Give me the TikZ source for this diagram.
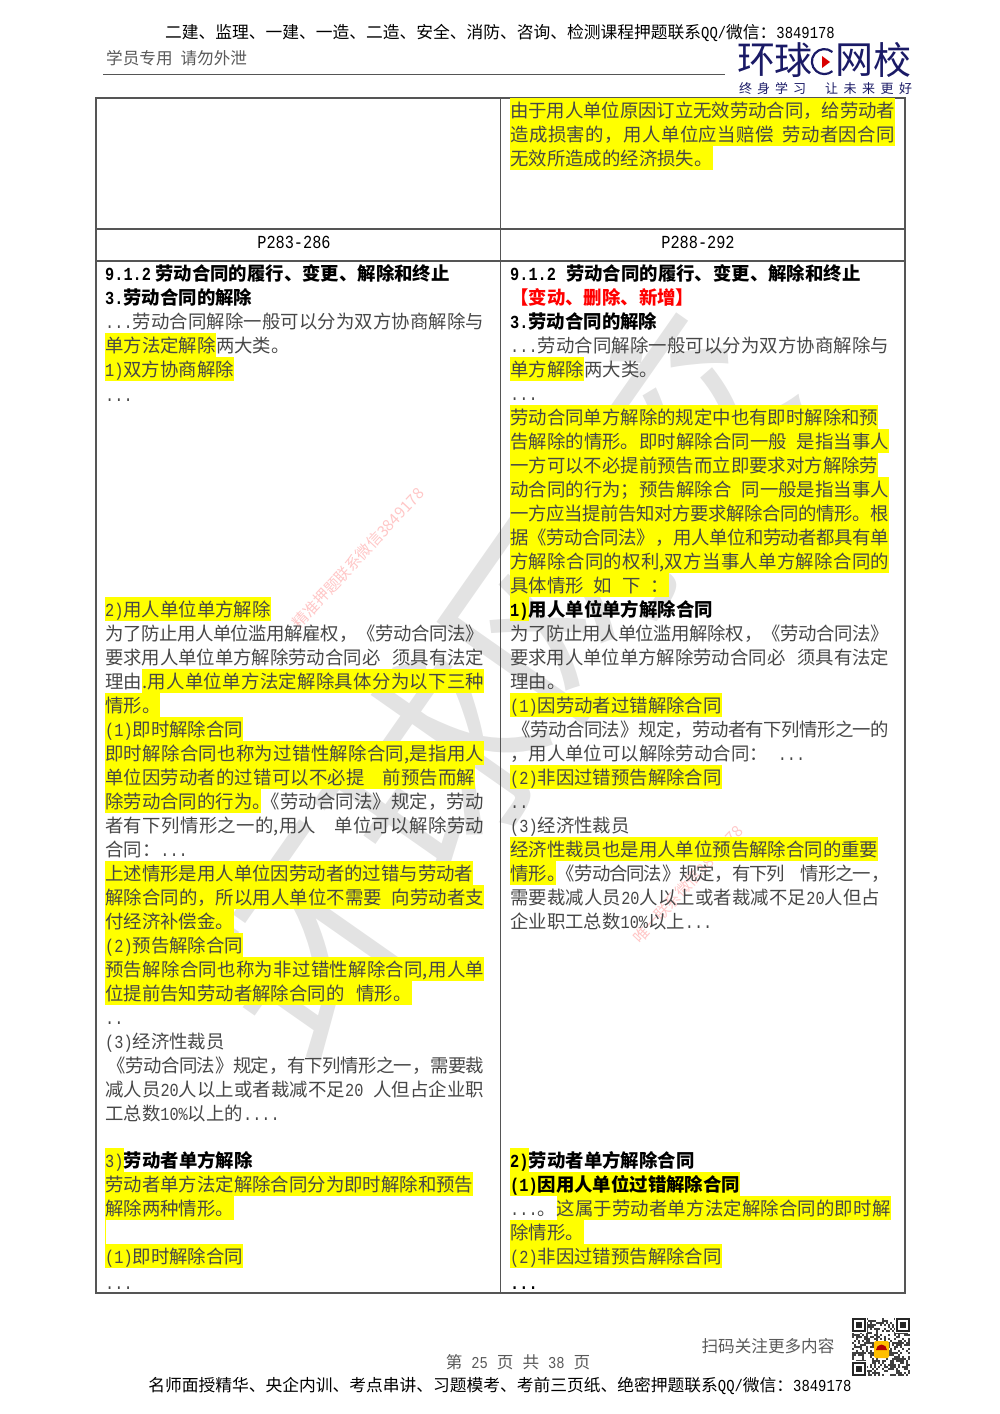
\documentclass[tikz,border=0pt]{standalone}
\usepackage{fontspec}
\setmainfont{Noto Sans CJK SC}
\newfontfamily\latinf[FakeStretch=.83]{Liberation Mono}
\XeTeXlinebreaklocale "zh"
\XeTeXlinebreakskip=0pt plus 3pt minus 1.2pt
\newcommand{\bodysize}{\fontsize{18.4}{24}\selectfont}
\newcommand{\nm}[1]{{\latinf #1}}
\newcommand{\dt}{\nm{.}}
\newcommand{\hp}{\makebox[9pt][l]{。}}
\newcommand{\fl}[2][379pt]{\parbox[t]{#1}{\parfillskip=0pt\relax #2}}
\definecolor{hlyellow}{HTML}{FFFF00}
\definecolor{logoblue}{HTML}{1A1A66}
\definecolor{rulegray}{HTML}{555555}
\tikzset{
  pl/.style={anchor=west,inner sep=0pt,minimum height=24pt,text height=16pt,text depth=2pt,text=black!72,font=\bodysize},
  hl/.style={pl,fill=hlyellow},
  bd/.style={pl,text=black,font=\bodysize\bfseries},
  hlbd/.style={bd,fill=hlyellow},
  wmark/.style={inner sep=0pt,rotate=47,text=red!22,font=\fontsize{15.5}{15.5}\selectfont},
  headtxt/.style={inner sep=0pt,text=black!85,font=\fontsize{16.75}{20}\selectfont},
  graytxt/.style={inner sep=0pt,text=black!65,font=\fontsize{16.6}{20}\selectfont},
  logotxt/.style={inner sep=0pt,text=logoblue,font=\fontsize{38}{38}\selectfont},
  tagtxt/.style={anchor=west,inner sep=0pt,text=logoblue,font=\fontsize{13}{13}\selectfont},
}
\begin{document}
\begin{tikzpicture}[x=1pt,y=-1pt]
\useasboundingbox (0,0) rectangle (1000,1414);

\node[inner sep=0pt,rotate=55,text=black!11,font=\fontsize{210}{210}\selectfont] (bigmark) at (495,685) {环球网校};
\node[wmark] (mark1) at (358,558) {精准押题联系微信3849178};
\node[wmark] (mark2) at (688,884) {唯一联系微信3849178};

\node[headtxt,text=black] (head) at (500,33) {二建、监理、一建、一造、二造、安全、消防、咨询、检测课程押题联系\nm{QQ/}微信：\nm{3849178}};
\node[graytxt,anchor=west] (stud) at (106,58) {学员专用\hspace{8pt}请勿外泄};
\draw[rulegray,line width=1.2pt] (103,74.5) -- (725,74.5);

\node[logotxt] (logo1) at (756,60) {环};
\node[logotxt] (logo2) at (793,60) {球};
\node[logotxt] (logo3) at (854,60) {网};
\node[logotxt] (logo4) at (892,60) {校};
\draw[logoblue,line width=2.2pt] (832.4,52) arc (310:50:12.5);
\fill[red!85!black] (822,56) -- (830,62) -- (822,68) -- cycle;
\node[tagtxt] (tag1) at (739,89) {终\hspace{5pt}身\hspace{5pt}学\hspace{5pt}习};
\node[tagtxt] (tag2) at (825,89) {让\hspace{5.5pt}未\hspace{5.5pt}来\hspace{5.5pt}更\hspace{5.5pt}好};

\draw[rulegray,line width=1.3pt] (96,98) rectangle (905,1293)
  (96,229) -- (905,229) (96,261) -- (905,261) (500.5,98) -- (500.5,1293);

\node[pl,anchor=center,text=black] (p1) at (294,241) {\nm{P283-286}};
\node[pl,anchor=center,text=black] (p2) at (698,241) {\nm{P288-292}};

% left column
\foreach \y/\txt in {
  321/\fl{\dt\dt\dt 劳动合同解除一般可以分为双方协商解除与},
  394/\dt\dt\dt,
  633/\fl{为了防止用人单位滥用解雇权，《劳动合同法》},
  657/\fl{要求用人单位单方解除劳动合同必\hspace{12pt}须具有法定},
  825/{\fl{者有下列情形之一的,用人\hspace{18pt}单位可以解除劳动}},
  849/合同：\dt\dt\dt,
  1017/\dt\dt,
  1041/\nm{(3)}经济性裁员,
  1065/\fl{\hspace{2pt}《劳动合同法》规定，有下列情形之一，需要裁},
  1089/\fl{减人员\nm{20}人以上或者裁减不足\nm{20}\hspace{10pt}人但占企业职},
  1113/工总数\nm{10\%}以上的\dt\dt\dt\dt,
  1282/\dt\dt\dt}
  \node[pl] (a\y) at (105,\y) {\txt};

\foreach \y/\txt in {
  369/\nm{1)}双方协商解除,
  609/\nm{2)}用人单位单方解除,
  705/情形。,
  729/\nm{(1)}即时解除合同,
  {753/\fl{即时解除合同也称为过错性解除合同,是指用人}},
  777/\fl[370pt]{单位因劳动者的过错可以不必提\hspace{18pt}前预告而解},
  873/上述情形是用人单位因劳动者的过错与劳动者,
  897/\fl{解除合同的，所以用人单位不需要\hspace{10pt}向劳动者支},
  921/付经济补偿金。,
  945/\nm{(2)}预告解除合同,
  {969/\fl{预告解除合同也称为非过错性解除合同,用人单}},
  993/位提前告知劳动者解除合同的\hspace{12pt}情形。,
  1184/劳动者单方法定解除合同分为即时解除和预告,
  1208/解除两种情形。,
  1232/\hspace{9pt},
  1256/\nm{(1)}即时解除合同}
  \node[hl] (a\y) at (105,\y) {\txt};

\node[bd] (a273) at (105,273) {\nm{9.1.2} 劳动合同的履行、变更、解除和终止};
\node[bd] (a297) at (105,297) {\nm{3.}劳动合同的解除};
\node[hl] (a345) at (105,345) {单方法定解除};
\node[pl] (b345) at (a345.east) {两大类。};
\node[pl] (a681) at (105,681) {理由};
\node[hl] (b681) at (a681.east) {\fl[342pt]{.用人单位单方法定解除具体分为以下三种}};
\node[hl] (a801) at (105,801) {除劳动合同的行为\hp};
\node[pl] (b801) at (a801.east) {\fl[222pt]{《劳动合同法》规定，劳动}};
\node[hl] (a1160) at (105,1160) {\nm{3)}};
\node[bd] (b1160) at (a1160.east) {劳动者单方解除};

% right column
\foreach \y/\txt in {
  345/\fl{\dt\dt\dt 劳动合同解除一般可以分为双方协商解除与},
  393/\dt\dt\dt,
  633/\fl{为了防止用人单位滥用解除权，《劳动合同法》},
  657/\fl{要求用人单位单方解除劳动合同必\hspace{12pt}须具有法定},
  681/理由。,
  729/\fl{\hspace{2pt}《劳动合同法》规定，劳动者有下列情形之一的},
  753/，用人单位可以解除劳动合同：\hspace{10pt}\dt\dt\dt,
  801/\dt\dt,
  825/\nm{(3)}经济性裁员,
  897/\fl[370pt]{需要裁减人员\nm{20}人以上或者裁减不足\nm{20}人但占},
  921/企业职工总数\nm{10\%}以上\dt\dt\dt}
  \node[pl] (c\y) at (510,\y) {\txt};

\foreach \y/\txt in {
  110/\fl[385pt]{由于用人单位原因订立无效劳动合同，给劳动者},
  134/\fl[385pt]{造成损害的，用人单位应当赔偿\hspace{8pt}劳动者因合同},
  158/无效所造成的经济损失。,
  417/劳动合同单方解除的规定中也有即时解除和预,
  441/\fl{告解除的情形。即时解除合同一般\hspace{10pt}是指当事人},
  465/一方可以不必提前预告而立即要求对方解除劳,
  489/\fl{动合同的行为；预告解除合\hspace{10pt}同一般是指当事人},
  513/\fl{一方应当提前告知对方要求解除合同的情形。根},
  537/\fl{据《劳动合同法》，用人单位和劳动者都具有单},
  {561/\fl{方解除合同的权利,双方当事人单方解除合同的}},
  585/具体情形\hspace{10pt}如\hspace{10pt}下\hspace{10pt}：,
  705/\nm{(1)}因劳动者过错解除合同,
  777/\nm{(2)}非因过错预告解除合同,
  849/经济性裁员也是用人单位预告解除合同的重要,
  1232/除情形。,
  1256/\nm{(2)}非因过错预告解除合同}
  \node[hl] (c\y) at (510,\y) {\txt};

\node[bd] (c273) at (510,273) {\nm{9.1.2}\hspace{10pt}劳动合同的履行、变更、解除和终止};
\node[bd,text=red] (c297) at (510,297) {【变动、删除、新增】};
\node[bd] (c321) at (510,321) {\nm{3.}劳动合同的解除};
\node[hl] (c369) at (510,369) {单方解除};
\node[pl] (d369) at (c369.east) {两大类。};
\node[hlbd] (c609) at (510,609) {\nm{1)}};
\node[bd] (d609) at (c609.east) {用人单位单方解除合同};
\node[hl] (c873) at (510,873) {情形\hp};
\node[pl] (d873) at (c873.east) {\fl[333pt]{《劳动合同法》规定，有下列\hspace{16pt}情形之一，}};
\node[hlbd] (c1160) at (510,1160) {\nm{2)}};
\node[bd] (d1160) at (c1160.east) {劳动者单方解除合同};
\node[hlbd] (c1184) at (510,1184) {\nm{(1)}因用人单位过错解除合同};
\node[pl] (c1208) at (510,1208) {\dt\dt\dt。};
\node[hl] (d1208) at (c1208.east) {\fl[334pt]{这属于劳动者单方法定解除合同的即时解}};
\node[bd] (c1282) at (510,1282) {\dt\dt\dt};

% footer
\node[graytxt] (scan) at (768,1346) {扫码关注更多内容};
\node[graytxt] (page) at (518,1362) {第\hspace{9pt}\nm{25}\hspace{9pt}页\hspace{9pt}共\hspace{9pt}\nm{38}\hspace{9pt}页};
\node[headtxt,text=black] (foot) at (500,1386) {名师面授精华、央企内训、考点串讲、习题模考、考前三页纸、绝密押题联系\nm{QQ/}微信：\nm{3849178}};

\pgfmathsetseed{17}
\foreach \i in {0,...,28}
\foreach \j in {0,...,28}{
  \pgfmathrandominteger{\q}{0}{1}
  \ifnum\q=1
    \fill[black!75] (852+2*\i,1318+2*\j) rectangle ++(2,2);
  \fi
}
\foreach \cx/\cy in {852/1318,896/1318,852/1362}{
  \fill[white] (\cx-1,\cy-1) rectangle ++(16,16);
  \draw[black!85,line width=2pt] (\cx+1,\cy+1) rectangle ++(12,12);
  \fill[black!85] (\cx+4,\cy+4) rectangle ++(6,6);
}
\fill[orange!50!yellow,rounded corners=2pt] (874,1341) rectangle (889,1358);
\fill[red!70!black] (876,1350) arc (180:360:5.5) -- cycle;
\end{tikzpicture}
\end{document}
